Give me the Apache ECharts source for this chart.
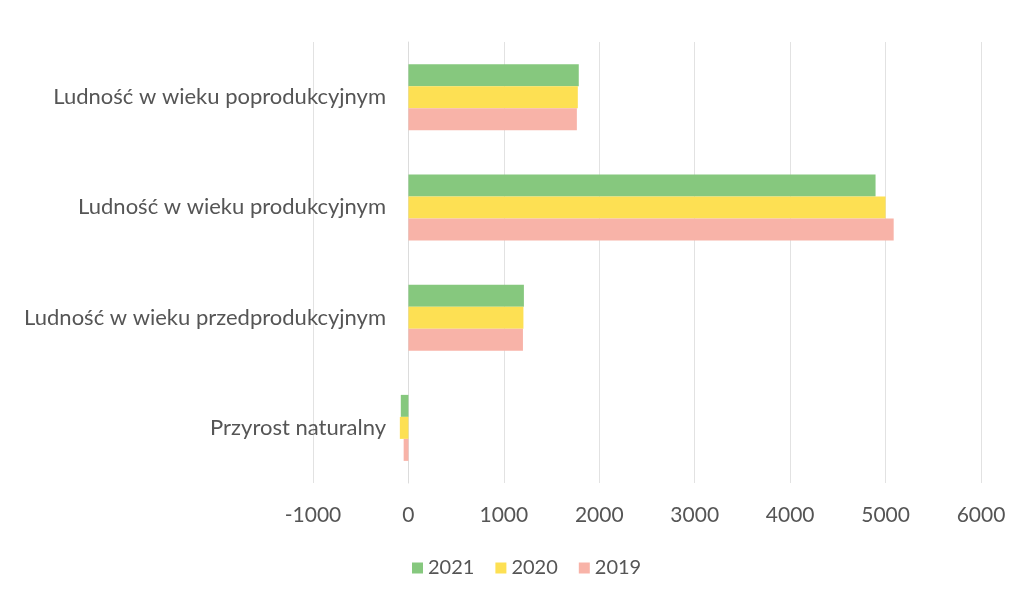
<!DOCTYPE html>
<html>
<head>
<meta charset="utf-8">
<script src="https://cdn.jsdelivr.net/npm/echarts@6/dist/echarts.min.js"></script>
<style>
  html, body { margin: 0; padding: 0; background: #fff; }
  #chartBox { width: 1022px; height: 597px; }
</style>
</head>
<body>
<div id="chartBox"></div>
<script>
// kategorie (od dołu do góry)
const categories = [
  'Przyrost naturalny',
  'Ludność w wieku przedprodukcyjnym',
  'Ludność w wieku produkcyjnym',
  'Ludność w wieku poprodukcyjnym'
]
const years = ['2021', '2020', '2019']
const values2021 = [-80, 1210, 4895, 1785]
const values2020 = [-90, 1205, 5000, 1775]
const values2019 = [-50, 1200, 5085, 1765]
const xTicks = [-1000, 0, 1000, 2000, 3000, 4000, 5000, 6000]

const colors = { '2021': '#86c87e', '2020': '#fde053', '2019': '#f8b3a8' }
const font = 'Lato, "Open Sans", sans-serif'

let myChart = echarts.init(document.getElementById('chartBox'))

// 2021 pierwsza -> na górze grupy
const seriesData = [
  ['2021', values2021],
  ['2020', values2020],
  ['2019', values2019]
]

myChart.setOption({
  animation: false,
  grid: {
    left: 313,
    right: 41,
    top: 42,
    bottom: 114,
    outerBoundsMode: 'none',
    containLabel: false
  },
  legend: {
    data: years,
    left: 407,
    top: 553,
    itemWidth: 11,
    itemHeight: 11,
    itemGap: 21,
    icon: 'rect',
    textStyle: { color: '#555', fontSize: 20, fontFamily: font }
  },
  xAxis: {
    type: 'value',
    min: xTicks[0],
    max: xTicks[xTicks.length - 1],
    interval: 1000,
    axisLine: { show: false },
    axisTick: { show: false },
    splitLine: { lineStyle: { color: '#e2e2e2' } },
    axisLabel: {
      color: '#555',
      fontSize: 21,
      fontFamily: font,
      margin: 22,
      formatter: v => String(v)
    }
  },
  yAxis: {
    type: 'category',
    data: categories,
    // oś kategorii przy wartości 0 (jak w Excelu)
    offset: -95,
    axisLine: { onZero: false, lineStyle: { color: '#dcdcdc' } },
    axisTick: { show: false },
    axisLabel: { color: '#555', fontSize: 22, fontFamily: font, margin: 22 }
  },
  series: seriesData.map(([name, data]) => ({
    name: name,
    type: 'bar',
    data: data,
    barWidth: 22,
    barGap: '0%',
    itemStyle: { color: colors[name] }
  }))
})
</script>
</body>
</html>
